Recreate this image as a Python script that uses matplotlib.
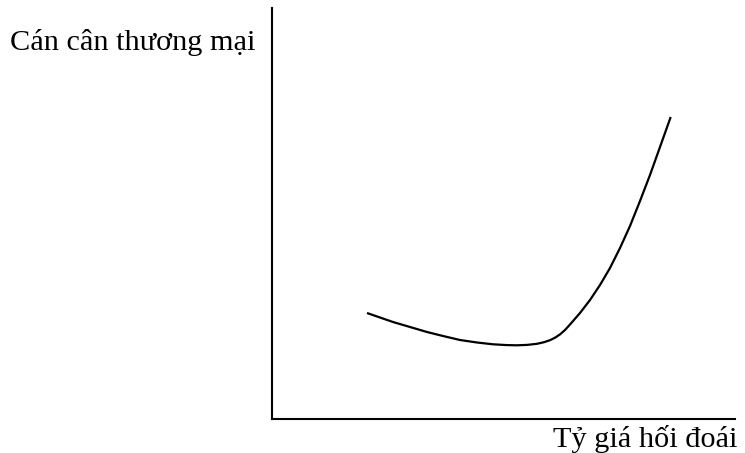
import matplotlib
matplotlib.use("Agg")
import matplotlib.pyplot as plt

# curve (pixel offsets from the axes corner)
x_vals = [95, 108, 121, 138, 155, 171, 188, 205, 221, 235, 245, 255, 265,
          272, 278, 283, 288, 293, 298, 308, 318, 328, 338, 348, 358, 368,
          378, 388, 398.7]
y_vals = [106, 101.5, 97, 92, 87, 83, 79, 76.5, 74.7, 73.9, 73.7, 74.1, 75.2,
          76.8, 78.8, 81.3, 84.6, 89, 94.5, 106, 119, 134, 151, 171, 193, 218,
          244, 272, 302]

y_label = "Cán cân thương mại"
x_label = "Tỷ giá hối đoái"

W, H = 745, 453
fig = plt.figure(figsize=(W / 100, H / 100), dpi=100)
plt.rcParams["font.family"] = ["Liberation Serif", "DejaVu Serif"]

# axes box: left 272, right 735, top 8, bottom 419 (pixels)
ax = fig.add_axes([272 / W, (H - 419) / H, (735 - 272) / W, (419 - 8) / H])
ax.set_xlim(0, 463)
ax.set_ylim(0, 411)
ax.plot(x_vals, y_vals, color="black", linewidth=1.6,
        solid_joinstyle="round", solid_capstyle="butt")

for s in ("top", "right"):
    ax.spines[s].set_visible(False)
for s in ("left", "bottom"):
    ax.spines[s].set_linewidth(1.5)
ax.set_xticks([])
ax.set_yticks([])

fig.text(10 / W, 1 - 50 / H, y_label, fontsize=21.8, ha="left", va="baseline")
fig.text(553 / W, 1 - 447 / H, x_label, fontsize=21.8, ha="left", va="baseline")

fig.savefig("out.png", dpi=100)
